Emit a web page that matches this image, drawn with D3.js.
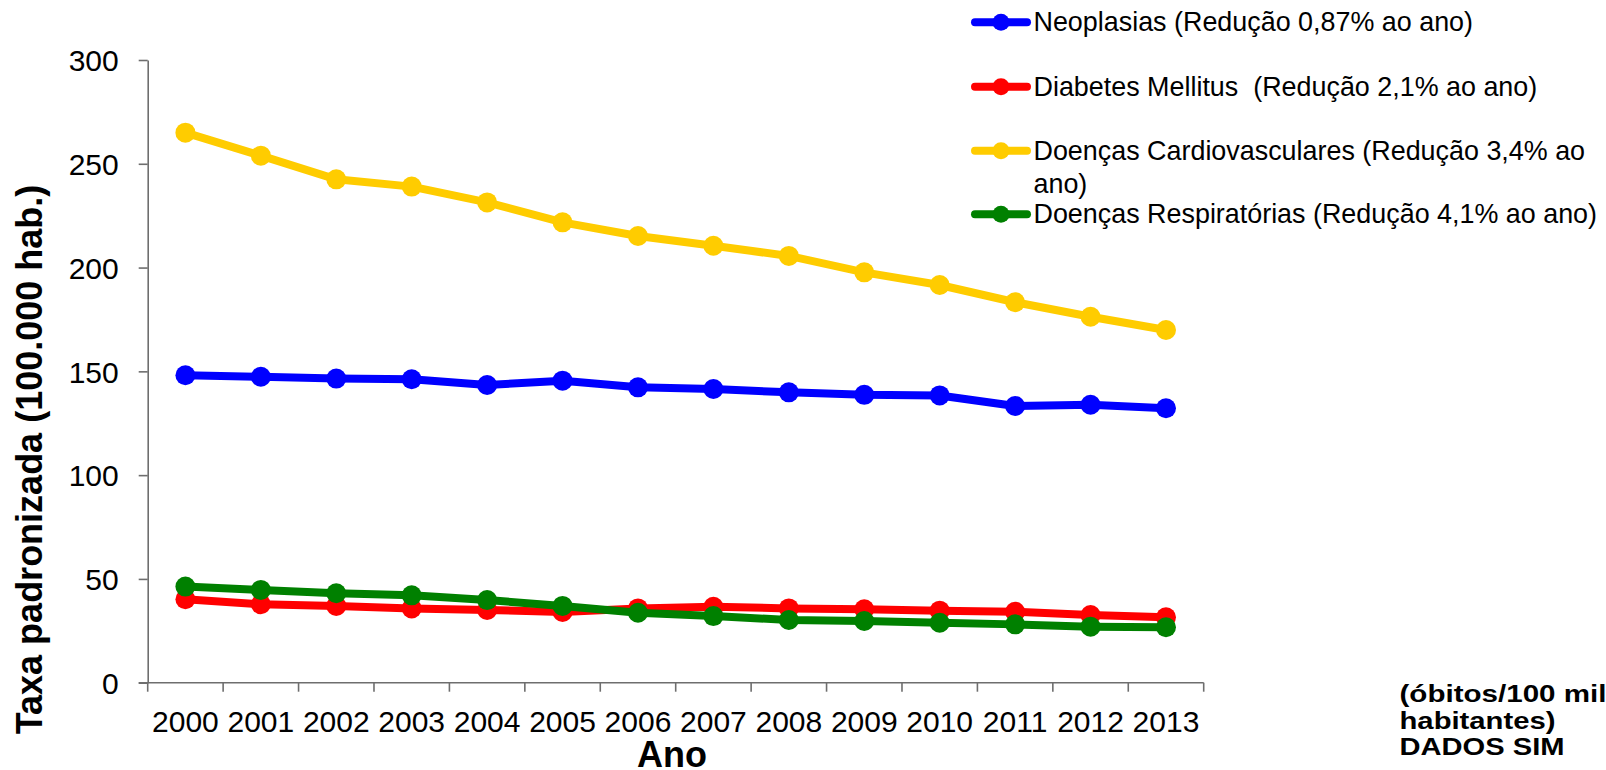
<!DOCTYPE html>
<html>
<head>
<meta charset="utf-8">
<script src="https://cdn.jsdelivr.net/npm/d3@7"></script>
<style>
  html, body { margin: 0; padding: 0; background: #ffffff; }
  svg { display: block; font-family: "Liberation Sans", Arial, sans-serif; }
</style>
</head>
<body>
<svg id="chart" width="1606" height="770"></svg>
<script>
// Age-standardised mortality rates per 100 000 inhabitants, 2000–2013
const years = ["2000","2001","2002","2003","2004","2005","2006","2007","2008","2009","2010","2011","2012","2013"];
const neoplasias   = [148.1, 147.4, 146.5, 146.2, 143.4, 145.5, 142.3, 141.5, 139.9, 138.7, 138.4, 133.3, 133.9, 132.2];
const diabetes     = [40.2, 37.8, 37.0, 35.8, 35.0, 34.1, 35.8, 36.6, 35.8, 35.4, 34.7, 34.2, 32.6, 31.5];
const cardio       = [265.0, 253.9, 242.5, 239.0, 231.4, 221.8, 215.2, 210.5, 205.6, 197.7, 191.6, 183.3, 176.3, 169.9];
const respiratorio = [46.3, 44.7, 43.1, 42.1, 39.8, 37.0, 33.7, 32.1, 30.2, 29.7, 28.9, 28.1, 27.0, 26.7];
const yTicks = [0, 50, 100, 150, 200, 250, 300];

const seriesNames = [
  ["Neoplasias (Redução 0,87% ao ano)"],
  ["Diabetes Mellitus  (Redução 2,1% ao ano)"],
  ["Doenças Cardiovasculares (Redução 3,4% ao", "ano)"],
  ["Doenças Respiratórias (Redução 4,1% ao ano)"]
];
const seriesValues = [neoplasias, diabetes, cardio, respiratorio];
const seriesColors = ["#0000ff", "#ff0000", "#ffcc00", "#008000"];

const svg = d3.select("#chart");
const plotLeft = 147.7, plotRight = 1203.7, plotTop = 60, plotBottom = 682.7;
const axisColor = "#6e6e6e";

const x = d3.scaleBand().domain(years).range([plotLeft, plotRight]);
const y = d3.scaleLinear().domain([0, 300]).range([plotBottom, plotTop]);

// Y axis
const yAxis = svg.append("g").attr("transform", `translate(${plotLeft},0)`)
  .call(d3.axisLeft(y).tickValues(yTicks).tickSize(9).tickPadding(20).tickSizeOuter(0));
yAxis.select(".domain").attr("stroke", axisColor).attr("stroke-width", 1.6);
yAxis.selectAll(".tick line").attr("stroke", axisColor).attr("stroke-width", 1.6);
yAxis.selectAll(".tick text")
  .attr("fill", "#000").attr("font-size", 30)
  .attr("font-family", "'Liberation Sans', Arial, sans-serif")
  .attr("dy", "0.36em");

// X axis: line, boundary ticks, centred year labels
const xg = svg.append("g");
xg.append("line")
  .attr("x1", plotLeft - 9).attr("x2", plotRight)
  .attr("y1", plotBottom).attr("y2", plotBottom)
  .attr("stroke", axisColor).attr("stroke-width", 1.6);
const bounds = years.map(d => x(d)).concat([x(years[years.length - 1]) + x.bandwidth()]);
xg.selectAll("line.tick").data(bounds).join("line")
  .attr("class", "tick")
  .attr("x1", d => d).attr("x2", d => d)
  .attr("y1", plotBottom).attr("y2", plotBottom + 9)
  .attr("stroke", axisColor).attr("stroke-width", 1.6);
xg.selectAll("text").data(years).join("text")
  .attr("x", d => x(d) + x.bandwidth() / 2)
  .attr("y", 731.7)
  .attr("text-anchor", "middle")
  .attr("font-size", 30)
  .attr("fill", "#000")
  .text(d => d);

// Axis titles
svg.append("text")
  .attr("transform", "translate(42,459.5) rotate(-90)")
  .attr("text-anchor", "middle")
  .attr("font-size", 36).attr("font-weight", "bold")
  .text("Taxa padronizada (100.000 hab.)");
svg.append("text")
  .attr("x", 672).attr("y", 767)
  .attr("text-anchor", "middle")
  .attr("font-size", 36).attr("font-weight", "bold")
  .text("Ano");

// Series lines and markers
const line = d3.line()
  .x((d, i) => x(years[i]) + x.bandwidth() / 2)
  .y(d => y(d));

seriesValues.forEach((vals, s) => {
  const g = svg.append("g");
  g.append("path")
    .datum(vals)
    .attr("d", line)
    .attr("fill", "none")
    .attr("stroke", seriesColors[s])
    .attr("stroke-width", 8)
    .attr("stroke-linejoin", "round");
  g.selectAll("circle").data(vals).join("circle")
    .attr("cx", (d, i) => x(years[i]) + x.bandwidth() / 2)
    .attr("cy", d => y(d))
    .attr("r", 10)
    .attr("fill", seriesColors[s]);
});

// Legend
const legendRows = [22.3, 86.7, 150.7, 214.3];
const lg = svg.append("g");
seriesNames.forEach((lines, s) => {
  const cy = legendRows[s];
  lg.append("line")
    .attr("x1", 975).attr("x2", 1027)
    .attr("y1", cy).attr("y2", cy)
    .attr("stroke", seriesColors[s]).attr("stroke-width", 8)
    .attr("stroke-linecap", "round");
  lg.append("circle")
    .attr("cx", 1001).attr("cy", cy).attr("r", 8.5)
    .attr("fill", seriesColors[s]);
  lines.forEach((t, k) => {
    lg.append("text")
      .attr("x", 1033.5)
      .attr("y", cy + 9 + k * 33)
      .attr("font-size", 26.9)
      .attr("fill", "#000")
      .style("white-space", "pre")
      .text(t);
  });
});

// Units / source note
const note = ["(óbitos/100 mil", "habitantes)", "DADOS SIM"];
const noteLens = [207, 156, 165];
const noteBase = [702, 728.5, 754.5];
note.forEach((t, k) => {
  svg.append("text")
    .attr("x", 1399.5).attr("y", noteBase[k])
    .attr("font-size", 23).attr("font-weight", "bold")
    .attr("textLength", noteLens[k])
    .attr("lengthAdjust", "spacingAndGlyphs")
    .text(t);
});
</script>
</body>
</html>
